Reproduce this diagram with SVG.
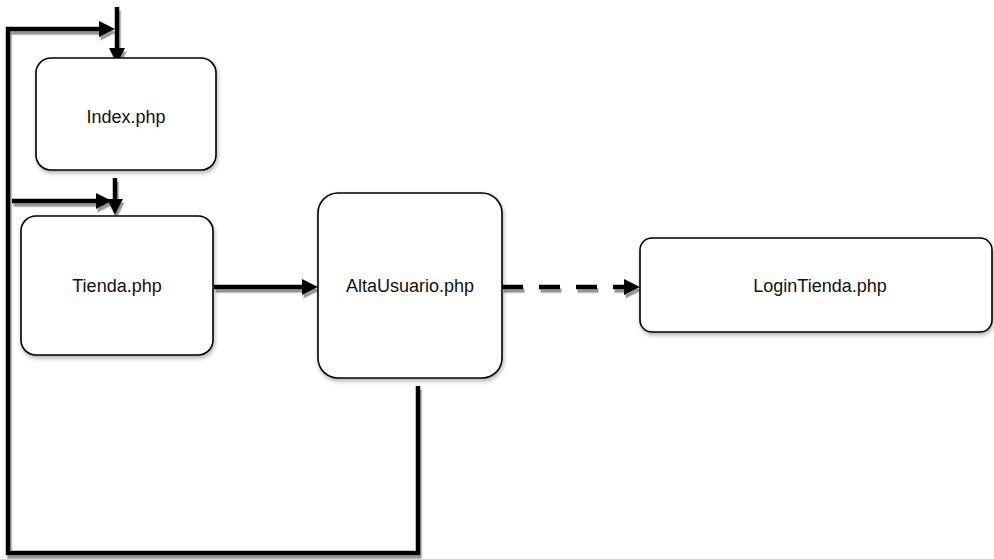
<svg xmlns="http://www.w3.org/2000/svg" width="994" height="559" viewBox="0 0 994 559">
<style>
.box{fill:#fff;stroke:#000;stroke-width:1.6;filter:url(#bs)}
.lbl{font-family:"Liberation Sans",Arial,sans-serif;font-size:18px;fill:#111;text-anchor:middle}
.con{fill:none;stroke:#000;stroke-width:4.5;stroke-linecap:butt;filter:url(#cs)}
</style>
<defs>
<filter id="bs" x="-10%" y="-10%" width="120%" height="130%">
<feDropShadow dx="1" dy="2.5" stdDeviation="2" flood-color="#000" flood-opacity="0.3"/>
</filter>
<filter id="cs" filterUnits="userSpaceOnUse" x="0" y="0" width="994" height="559">
<feDropShadow dx="1.5" dy="3.5" stdDeviation="0.3" flood-color="#8a8a8a" flood-opacity="0.9"/>
</filter>
<marker id="ah" markerUnits="userSpaceOnUse" markerWidth="16" markerHeight="16" refX="8" refY="8" orient="auto">
<path d="M0,0 L16,8 L0,16 z" fill="#000"/>
</marker>
</defs>
<g id="connectors">
<path class="con" d="M418,386 V553 H8 V29 H107" marker-end="url(#ah)"/>
<path class="con" d="M12,201 H104" marker-end="url(#ah)"/>
<path class="con" d="M117,7 V56" marker-end="url(#ah)"/>
<path class="con" d="M115,178 V207" marker-end="url(#ah)"/>
<path class="con" d="M214,287 H310" marker-end="url(#ah)"/>
<path class="con" d="M502,287 H632" stroke-dasharray="21 16" marker-end="url(#ah)"/>
</g>
<g id="index">
<rect class="box" x="36" y="58" width="180" height="112" rx="15"/>
<text class="lbl" x="126" y="123">Index.php</text>
</g>
<g id="tienda">
<rect class="box" x="21" y="216" width="192" height="139" rx="15"/>
<text class="lbl" x="117" y="292">Tienda.php</text>
</g>
<g id="altausuario">
<rect class="box" x="318" y="193" width="184" height="185" rx="20"/>
<text class="lbl" x="410" y="292">AltaUsuario.php</text>
</g>
<g id="logintienda">
<rect class="box" x="640" y="238" width="352" height="94" rx="12"/>
<text class="lbl" x="820" y="292">LoginTienda.php</text>
</g>
</svg>
